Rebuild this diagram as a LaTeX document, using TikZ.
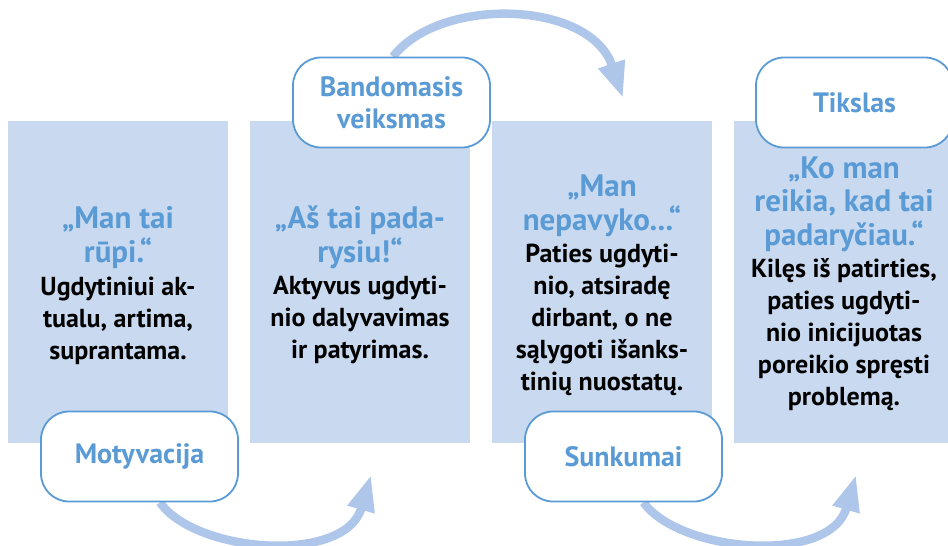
\documentclass[tikz,border=0pt]{standalone}
\usepackage{fontspec}
\setmainfont{PT Sans}
\usetikzlibrary{arrows.meta,backgrounds}
\definecolor{panelc}{RGB}{201,218,240}
\definecolor{lblue}{RGB}{91,155,213}
\definecolor{arrc}{RGB}{174,198,233}
\newcommand\stk[1]{\begin{tabular}[t]{@{}c@{}}#1\end{tabular}}
\begin{document}
\begin{tikzpicture}[x=1pt,y=-1pt,
  panel/.style={fill=panelc, draw=none, minimum width=220pt, minimum height=322pt, inner sep=0pt},
  lbl/.style={draw=lblue, line width=1.8pt, fill=white, rounded corners=28pt, minimum width=197pt, minimum height=90pt, text=lblue, font=\fontsize{28}{32}\selectfont\bfseries, align=center, inner sep=0pt},
  hd/.style={text=lblue, font=\fontsize{31}{33}\selectfont\bfseries, inner sep=0pt, anchor=base},
  bd/.style={text=black, font=\fontsize{26}{32}\selectfont\bfseries, inner sep=0pt, anchor=base},
  flow/.style={draw=arrc, line width=8.5pt, -{Triangle[length=36pt,width=26pt]}}
]
\useasboundingbox (0,0) rectangle (948,546);
% panels
\node[panel] (p1) at (118,282) {};
\node[panel] (p2) at (360,282) {};
\node[panel] (p3) at (602,282) {};
\node[panel] (p4) at (844,282) {};
% texts
\node[hd] (h1) at (118,228) {\stk{„Man tai\\rūpi.“}};
\node[bd] (b1) at (118,295) {\stk{Ugdytiniui ak-\\tualu, artima,\\suprantama.}};
\node[hd] (h2) at (360,228) {\stk{„Aš tai pada-\\rysiu!“}};
\node[bd] (b2) at (360,294) {\stk{Aktyvus ugdyti-\\nio dalyvavimas\\ir patyrimas.}};
\node[hd] (h3) at (602,196) {\stk{„Man\\nepavyko...“}};
\node[bd] (b3) at (602,262) {\stk{Paties ugdyti-\\nio, atsiradę\\dirbant, o ne\\sąlygoti išanks-\\tinių nuostatų.}};
\node[hd] (h4) at (844,178) {\stk{„Ko man\\reikia, kad tai\\padaryčiau.“}};
\node[bd] (b4) at (844,277) {\stk{Kilęs iš patirties,\\paties ugdyti-\\nio inicijuotas\\poreikio spręsti\\problemą.}};
% labels
\node[lbl] (m) at (139.5,456.5) {Motyvacija};
\node[lbl] (bv) at (391.5,102.5) {Bandomasis\\veiksmas};
\node[lbl] (s) at (623.5,456.5) {Sunkumai};
\node[lbl] (t) at (854.5,102.5) {Tikslas};
% arrow ends
\coordinate (e1) at (371,475);
\coordinate (e2) at (623,98);
\coordinate (e3) at (856,475);
\begin{scope}[on background layer]
\draw[flow] ([xshift=20.5pt]m.south) .. controls (195,553) and (345,565) .. (e1);
\draw[flow] ([xshift=1.5pt]bv.north) .. controls (440,-4) and (590,0) .. (e2);
\draw[flow] ([xshift=20pt]s.south) .. controls (680,553) and (830,565) .. (e3);
\end{scope}
\end{tikzpicture}
\end{document}
